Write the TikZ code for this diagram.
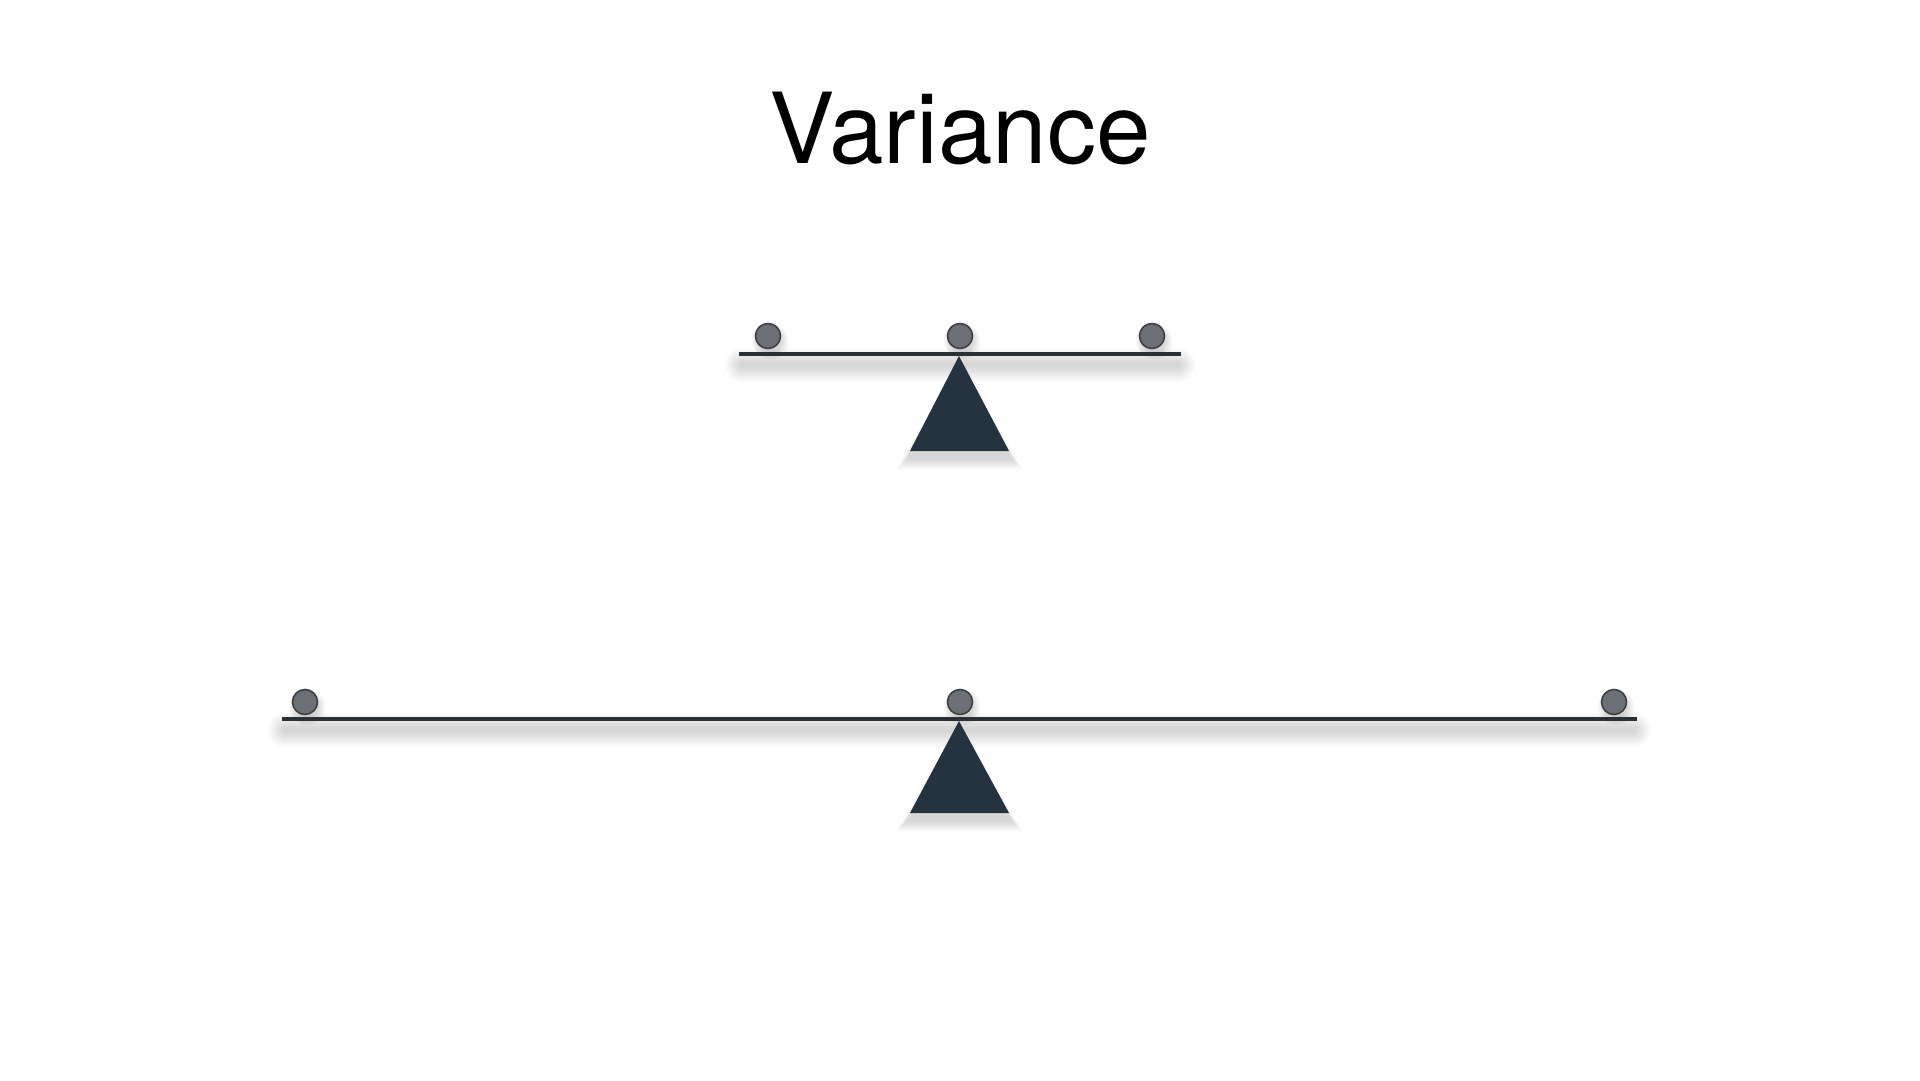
\documentclass[tikz,border=0pt]{standalone}
\usepackage{fontspec}
\setmainfont{TeX Gyre Heros}
\definecolor{beamc}{HTML}{2B3036}
\definecolor{fulc}{HTML}{253240}
\definecolor{ballf}{HTML}{6B7076}
\definecolor{balld}{HTML}{3B4045}
\tikzset{
  ball/.style={circle, fill=ballf, draw=balld, line width=1.6pt, minimum size=25pt, inner sep=0pt},
  beam/.style={draw=beamc, line width=4pt},
  fulcrum/.style={fill=fulc},
}
\begin{document}
\begin{tikzpicture}[x=1pt,y=-1pt]
\useasboundingbox (0,0) rectangle (1920,1080);
\fill[white] (0,0) rectangle (1920,1080);
\node[anchor=base, font=\fontsize{98}{110}\selectfont] (title) at (960,163) {Variance};

% ---- top seesaw ----
\coordinate (t1) at (739,354);
\coordinate (t2) at (1181,354);
\coordinate (tapex) at (959,356);
% soft shadows
\foreach \w in {34,30,26,22,18,14,10,6}{
  \draw[line width=\w pt, black, opacity=0.018, line cap=round] (742,365) -- (1178,365);
  \fill[black, opacity=0.02] (959,{372-\w/3}) -- ({908-\w/3},{458+\w/3}) -- ({1011+\w/3},{458+\w/3}) -- cycle;
  \foreach \x in {768,960,1152}{\fill[black,opacity=0.02] (\x+2,341) circle ({10+\w/4});}
}
\draw[beam] (t1) -- (t2);
\fill[fulcrum] (tapex) -- (910,451) -- (1009,451) -- cycle;
\foreach \n/\x in {ta/768,tb/960,tc/1152}{
  \node[ball] (\n) at (\x,336) {};
}

% ---- bottom seesaw ----
\coordinate (b1) at (282,719);
\coordinate (b2) at (1637,719);
\coordinate (bapex) at (959,721);
\foreach \w in {34,30,26,22,18,14,10,6}{
  \draw[line width=\w pt, black, opacity=0.018, line cap=round] (285,730) -- (1634,730);
  \fill[black, opacity=0.02] (959,{737-\w/3}) -- ({908-\w/3},{820+\w/3}) -- ({1011+\w/3},{820+\w/3}) -- cycle;
  \foreach \x in {305,960,1614}{\fill[black,opacity=0.02] (\x+2,707) circle ({10+\w/4});}
}
\draw[beam] (b1) -- (b2);
\fill[fulcrum] (bapex) -- (910,813) -- (1009,813) -- cycle;
\foreach \n/\x in {ba/305,bb/960,bc/1614}{
  \node[ball] (\n) at (\x,702) {};
}
\end{tikzpicture}
\end{document}
